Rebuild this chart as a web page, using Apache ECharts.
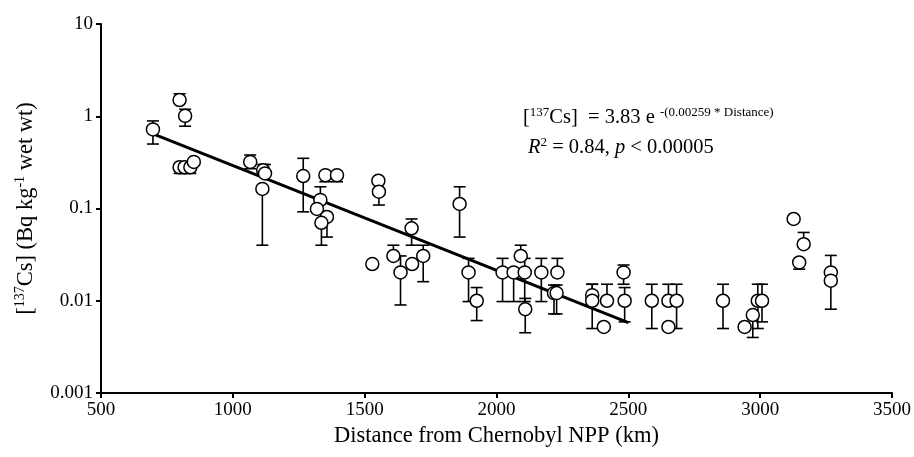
<!DOCTYPE html>
<html>
<head>
<meta charset="utf-8">
<script src="https://cdn.jsdelivr.net/npm/echarts@6/dist/echarts.min.js"></script>
<style>
html,body{margin:0;padding:0;background:#fff;}
#chart{width:914px;height:457px;}
</style>
</head>
<body>
<div id="chart"></div>
<script>
// Distance (km)
var distance = [697, 798, 819, 798, 817, 839, 852, 1066, 1115, 1122, 1112, 1267, 1351, 1395, 1332, 1319, 1357, 1336,
  1552, 1554, 1860, 1678, 1529, 1609, 1636, 1680, 1722, 1894, 1925, 2023, 2065, 2107, 2092, 2109, 2170, 2231, 2218, 2228,
  2363, 2363, 2419, 2407, 2482, 2486, 2589, 2652, 2652, 2683, 2859, 2941, 2972, 2991, 3007, 3127, 3165, 3148, 3268, 3268];
// [137Cs] concentration (Bq/kg wet wt)
var cs137 = [0.72, 1.50, 1.01, 0.28, 0.28, 0.28, 0.32, 0.32, 0.26, 0.24, 0.163, 0.225, 0.23, 0.23, 0.124, 0.099, 0.081, 0.070,
  0.20, 0.152, 0.112, 0.061, 0.025, 0.0306, 0.0203, 0.025, 0.0306, 0.0203, 0.0100, 0.0203, 0.0203, 0.0203, 0.0306, 0.0081, 0.0203, 0.0203, 0.0121, 0.0121,
  0.0115, 0.0100, 0.0100, 0.0052, 0.0203, 0.0100, 0.0100, 0.0100, 0.0052, 0.0100, 0.0100, 0.0052, 0.0070, 0.0100, 0.0100, 0.077, 0.041, 0.026, 0.0203, 0.0165];
// lower error bar end (null = none)
var errLow = [0.50, null, 0.78, 0.24, 0.24, 0.24, null, 0.27, null, null, 0.040, 0.092, 0.195, 0.195, null, null, 0.049, 0.040,
  null, 0.109, 0.049, 0.040, null, null, 0.009, null, 0.0161, 0.0098, 0.0061, 0.0098, 0.0098, 0.0098, null, 0.0045, 0.0098, null, 0.0072, 0.0072,
  null, 0.0050, null, null, 0.0151, 0.0059, 0.0050, null, null, 0.0050, 0.0050, null, 0.0040, 0.0050, 0.0059, null, null, 0.022, null, 0.0081];
// upper error bar end (null = none)
var errHigh = [0.89, 1.75, 1.19, null, null, null, null, 0.38, 0.30, 0.30, null, 0.35, null, null, 0.172, null, null, null,
  null, null, 0.172, 0.077, null, 0.040, 0.0306, null, 0.040, 0.0288, 0.0139, 0.0288, null, 0.0288, 0.040, 0.0106, 0.0288, 0.0288, 0.0148, 0.0148,
  0.0151, 0.0151, 0.0151, null, 0.0244, 0.0139, 0.0151, 0.0151, null, 0.0151, 0.0151, null, null, 0.0151, 0.0151, null, 0.055, null, 0.031, null];
// regression line endpoints
var fitX = [700, 2500];
var fitY = [0.64, 0.0058];
var xTickLabels = ['500', '1000', '1500', '2000', '2500', '3000', '3500'];
var yTickLabels = ['0.001', '0.01', '0.1', '1', '10'];

var FONT = '"Liberation Serif", "Times New Roman", serif';

var pts = distance.map(function (d, i) { return [d, cs137[i]]; });
var bars = distance.map(function (d, i) {
  return [d, cs137[i], errLow[i] == null ? cs137[i] : errLow[i], errHigh[i] == null ? cs137[i] : errHigh[i]];
});
var fit = fitX.map(function (x, i) { return [x, fitY[i]]; });

var chart = echarts.init(document.getElementById('chart'), null, { renderer: 'canvas' });

chart.setOption({
  animation: false,
  backgroundColor: '#fff',
  grid: { left: 101, right: 17, top: 24, bottom: 64, containLabel: false },
  xAxis: {
    type: 'value', min: 500, max: 3500, interval: 500,
    name: 'Distance from Chernobyl NPP (km)', nameLocation: 'middle', nameGap: 31,
    nameTextStyle: { fontFamily: FONT, fontSize: 22.5, color: '#000' },
    axisLine: { lineStyle: { color: '#000', width: 2 } },
    axisTick: { show: true, length: 5, lineStyle: { color: '#000', width: 2 } },
    axisLabel: {
      fontFamily: FONT, fontSize: 19, color: '#000', margin: 8,
      formatter: function (v) {
        var k = Math.round((v - 500) / 500);
        return xTickLabels[k] != null ? xTickLabels[k] : '';
      }
    },
    splitLine: { show: false }
  },
  yAxis: {
    type: 'log', logBase: 10, min: 0.001, max: 10,
    name: '[{sup|137}Cs] (Bq kg{sup|-1} wet wt)', nameLocation: 'middle', nameGap: 62, nameRotate: 90,
    nameTextStyle: {
      fontFamily: FONT, fontSize: 22.5, color: '#000', lineHeight: 26,
      rich: { sup: { fontFamily: FONT, fontSize: 14, lineHeight: 14, verticalAlign: 'top', color: '#000' } }
    },
    axisLine: { show: true, lineStyle: { color: '#000', width: 2 } },
    axisTick: { show: true, length: 5, lineStyle: { color: '#000', width: 2 } },
    axisLabel: {
      fontFamily: FONT, fontSize: 19, color: '#000', margin: 8,
      formatter: function (v) {
        var k = Math.round(Math.log10(v)) + 3;
        return yTickLabels[k] != null ? yTickLabels[k] : '';
      }
    },
    splitLine: { show: false },
    minorTick: { show: false }
  },
  graphic: [
    {
      type: 'text', left: 523, top: 106,
      style: {
        text: '[{sup|137}Cs]  = 3.83 e {ex|-(0.00259 * Distance)}',
        fontFamily: FONT, fontSize: 20.5, fill: '#000', lineHeight: 24,
        rich: {
          sup: { fontFamily: FONT, fontSize: 13, lineHeight: 13, verticalAlign: 'top', fill: '#000' },
          ex: { fontFamily: FONT, fontSize: 13, lineHeight: 13, verticalAlign: 'top', fill: '#000' }
        }
      }
    },
    {
      type: 'text', left: 528, top: 136,
      style: {
        text: '{it|R}{sup|2} = 0.84, {it|p} < 0.00005',
        fontFamily: FONT, fontSize: 20.5, fill: '#000', lineHeight: 24,
        rich: {
          it: { fontFamily: FONT, fontSize: 20.5, fontStyle: 'italic', lineHeight: 24, fill: '#000' },
          sup: { fontFamily: FONT, fontSize: 13, lineHeight: 13, verticalAlign: 'top', fill: '#000' }
        }
      }
    }
  ],
  series: [
    {
      type: 'custom',
      z: 2,
      clip: false,
      data: bars,
      encode: { x: 0, y: 1 },
      renderItem: function (params, api) {
        var x = api.value(0), v = api.value(1), lo = api.value(2), hi = api.value(3);
        var c = api.coord([x, v]);
        var children = [];
        var w = 6;
        var st = { stroke: '#000', lineWidth: 1.6 };
        if (hi > v) {
          var h = api.coord([x, hi]);
          children.push({ type: 'line', shape: { x1: c[0], y1: c[1], x2: h[0], y2: h[1] }, style: st });
          children.push({ type: 'line', shape: { x1: h[0] - w, y1: h[1], x2: h[0] + w, y2: h[1] }, style: st });
        }
        if (lo < v) {
          var l = api.coord([x, lo]);
          children.push({ type: 'line', shape: { x1: c[0], y1: c[1], x2: l[0], y2: l[1] }, style: st });
          children.push({ type: 'line', shape: { x1: l[0] - w, y1: l[1], x2: l[0] + w, y2: l[1] }, style: st });
        }
        return { type: 'group', children: children };
      }
    },
    {
      type: 'line',
      z: 3,
      data: fit,
      showSymbol: false,
      symbol: 'none',
      lineStyle: { color: '#000', width: 3 },
      silent: true
    },
    {
      type: 'scatter',
      z: 4,
      data: pts,
      symbol: 'circle',
      symbolSize: 13,
      itemStyle: { color: '#fff', borderColor: '#000', borderWidth: 1.5, opacity: 1 }
    }
  ]
});
</script>
</body>
</html>
